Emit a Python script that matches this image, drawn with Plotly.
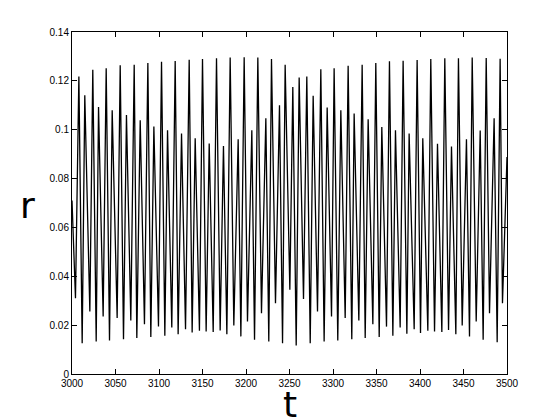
import plotly.graph_objects as go

# turning points of r(t)
t_points = [
    3000.0, 3004.0, 3007.9, 3011.7, 3014.7, 3020.5, 3023.9, 3027.8, 3030.5, 3035.8,
    3039.3, 3043.1, 3046.2, 3051.9, 3055.4, 3059.2, 3062.6, 3067.6, 3071.5, 3074.5,
    3078.4, 3083.3, 3087.2, 3090.6, 3094.1, 3099.4, 3102.9, 3106.7, 3109.8, 3114.7,
    3118.6, 3122.0, 3125.9, 3130.5, 3134.7, 3138.1, 3141.6, 3146.5, 3150.0, 3154.2,
    3157.7, 3162.3, 3166.1, 3170.3, 3174.1, 3178.0, 3181.8, 3186.0, 3191.0, 3194.1,
    3197.9, 3201.7, 3206.7, 3209.8, 3213.6, 3217.8, 3222.8, 3226.2, 3229.3, 3233.9,
    3238.5, 3242.0, 3245.0, 3250.4, 3253.8, 3257.7, 3261.1, 3266.1, 3269.9, 3273.8,
    3277.2, 3282.2, 3286.0, 3289.8, 3293.3, 3298.3, 3301.3, 3305.5, 3309.0, 3314.0,
    3317.4, 3321.6, 3324.3, 3329.7, 3333.5, 3337.0, 3340.4, 3345.8, 3349.2, 3353.1,
    3356.1, 3361.5, 3364.9, 3368.8, 3371.8, 3377.2, 3380.6, 3384.9, 3387.5, 3393.3,
    3396.7, 3400.6, 3403.2, 3409.0, 3412.4, 3416.7, 3420.1, 3425.1, 3428.5, 3432.8,
    3436.2, 3441.2, 3444.2, 3448.5, 3453.4, 3456.9, 3460.0, 3464.6, 3469.2, 3472.6,
    3476.1, 3479.9, 3485.2, 3488.7, 3492.1, 3494.8, 3500.0,
]
r_points = [
    0.0710, 0.0310, 0.1218, 0.0126, 0.1141, 0.0256, 0.1245, 0.0133, 0.1093, 0.0235,
    0.1252, 0.0137, 0.1080, 0.0229, 0.1264, 0.0142, 0.1060, 0.0219, 0.1266, 0.0147,
    0.1039, 0.0204, 0.1273, 0.0151, 0.1013, 0.0194, 0.1278, 0.0157, 0.0998, 0.0190,
    0.1281, 0.0163, 0.0984, 0.0183, 0.1286, 0.0170, 0.0965, 0.0177, 0.1289, 0.0174,
    0.0944, 0.0172, 0.1293, 0.0178, 0.0933, 0.0163, 0.1296, 0.0199, 0.0961, 0.0154,
    0.1297, 0.0215, 0.0998, 0.0140, 0.1296, 0.0249, 0.1047, 0.0133, 0.1289, 0.0290,
    0.1100, 0.0126, 0.1266, 0.0345, 0.1175, 0.0117, 0.1214, 0.0307, 0.1218, 0.0126,
    0.1139, 0.0256, 0.1247, 0.0133, 0.1091, 0.0235, 0.1252, 0.0137, 0.1080, 0.0229,
    0.1262, 0.0142, 0.1066, 0.0219, 0.1266, 0.0147, 0.1043, 0.0204, 0.1273, 0.0152,
    0.1011, 0.0194, 0.1280, 0.0157, 0.0998, 0.0190, 0.1282, 0.0165, 0.0984, 0.0183,
    0.1285, 0.0168, 0.0965, 0.0177, 0.1289, 0.0174, 0.0943, 0.0172, 0.1292, 0.0180,
    0.0931, 0.0163, 0.1292, 0.0199, 0.0961, 0.0154, 0.1296, 0.0215, 0.0997, 0.0140,
    0.1294, 0.0249, 0.1047, 0.0130, 0.1290, 0.0290, 0.0888,
]

x_ticks = [3000, 3050, 3100, 3150, 3200, 3250, 3300, 3350, 3400, 3450, 3500]
y_ticks = [0, 0.02, 0.04, 0.06, 0.08, 0.1, 0.12, 0.14]
y_labels = ["0", "0.02", "0.04", "0.06", "0.08", "0.1", "0.12", "0.14"]

fig = go.Figure()
fig.add_trace(go.Scatter(
    x=t_points, y=r_points, mode="lines",
    line=dict(color="black", width=1.3),
    hoverinfo="skip", showlegend=False,
))

axis_style = dict(
    showline=True, linecolor="black", linewidth=1, mirror="ticks",
    ticks="inside", ticklen=5, tickcolor="black", tickwidth=1,
    showgrid=False, zeroline=False,
    tickfont=dict(family="Liberation Sans", size=10, color="black"),
)

# the page body adds 8px around the plot div, so the figure is 8px smaller
fig.update_layout(
    width=552, height=412,
    margin=dict(l=64, r=53, t=24, b=46),
    paper_bgcolor="white", plot_bgcolor="white",
    xaxis=dict(range=[3000, 3500], tickvals=x_ticks, **axis_style),
    yaxis=dict(range=[0, 0.14], tickvals=y_ticks, ticktext=y_labels, **axis_style),
    annotations=[
        dict(text="r", xref="paper", yref="paper", x=-0.102, y=0.494,
             showarrow=False, xanchor="center", yanchor="middle",
             font=dict(family="DejaVu Sans", size=36, color="black")),
        dict(text="t", xref="paper", yref="paper", x=0.502, y=-0.09,
             showarrow=False, xanchor="center", yanchor="middle",
             font=dict(family="DejaVu Sans", size=36, color="black")),
    ],
)

fig.write_html("out.html")
